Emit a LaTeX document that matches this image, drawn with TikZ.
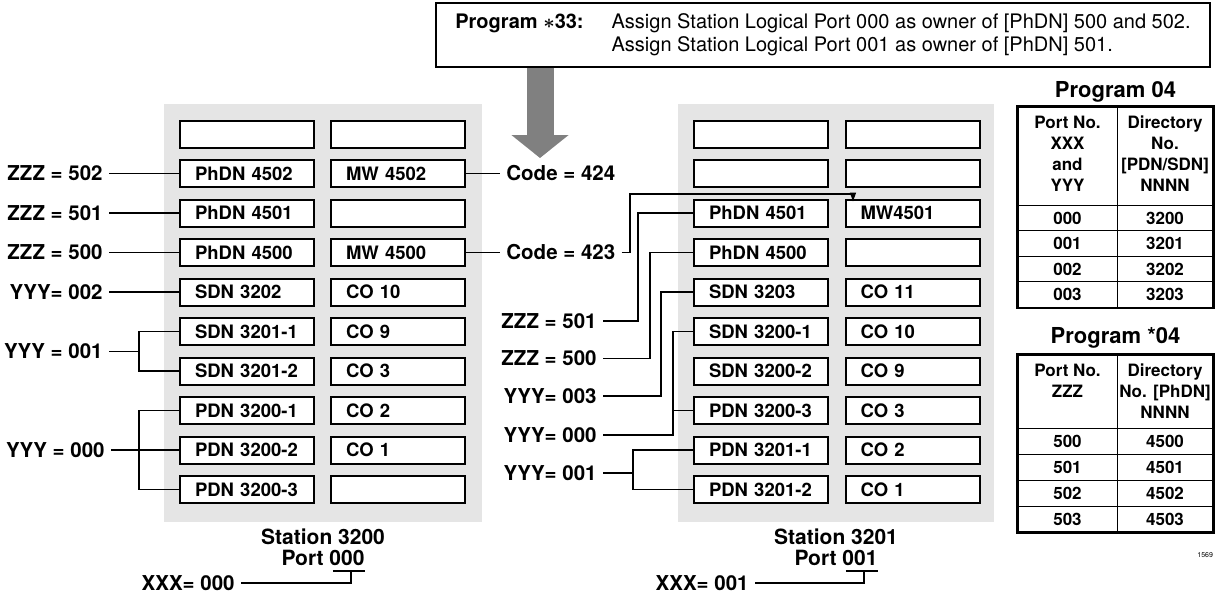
\documentclass[tikz,border=0pt]{standalone}
\usepackage{fontspec}
\setmainfont{TeX Gyre Heros}
\usetikzlibrary{arrows.meta}

\begin{document}
\begin{tikzpicture}[x=0.5pt,y=-0.5pt]
  \tikzset{SlotStyle/.style = {draw=black,line width=1pt,fill=white,rectangle,inner ysep=0pt,inner xsep=7.5pt,text width=52pt,align=left,minimum height=13.5pt,font=\fontsize{9.25}{11}\selectfont\bfseries}}
  \tikzset{TagStyle/.style = {inner sep=3pt,font=\fontsize{10.25}{12}\selectfont\bfseries}}
  \tikzset{StationStyle/.style = {inner sep=0pt,font=\fontsize{10.5}{12}\selectfont\bfseries}}
  \tikzset{LinkStyle/.style = {line width=0.7pt}}
  \tikzset{CellStyle/.style = {draw=black,line width=0.5pt,rectangle,inner sep=0pt,minimum height=12.75pt,font=\fontsize{8.5}{10.5}\selectfont\bfseries}}
  \tikzset{HeadStyle/.style = {inner sep=0pt,align=center,anchor=north,font=\fontsize{8.5}{10.5}\selectfont\bfseries}}
  \tikzset{TitleStyle/.style = {inner sep=0pt,font=\fontsize{11}{13}\selectfont\bfseries}}
  \useasboundingbox (0,0) rectangle (1215,595);
  % program *33 box and arrow
  \node[draw=black,line width=0.9pt,minimum width=387pt,minimum height=32pt,inner sep=0pt] (prog33) at (823,35)
    {\fontsize{10}{11.5}\selectfont\begin{tabular}{@{}l@{\hspace{14pt}}l@{}}
      {\bfseries Program {\boldmath$\ast$}33:} & Assign Station Logical Port 000 as owner of [PhDN] 500 and 502.\\
      & Assign Station Logical Port 001 as owner of [PhDN] 501.
    \end{tabular}};
  \coordinate (atip) at (540,158);
  \draw[line width=13.5pt,black!50,-{Triangle[width=28pt,length=11.5pt]}] (atip |- prog33.south) -- (atip);
  % gray panels
  \fill[black!10] (164,104) rectangle (482,522);
  \fill[black!10] (678,104) rectangle (994,522);
  % station 3200, port 000
  \node[SlotStyle] (pa1_0) at (247,134) {};
  \node[SlotStyle] (pa1_1) at (247,173.5) {PhDN 4502};
  \node[SlotStyle] (pa1_2) at (247,213) {PhDN 4501};
  \node[SlotStyle] (pa1_3) at (247,252.5) {PhDN 4500};
  \node[SlotStyle] (pa1_4) at (247,292) {SDN 3202};
  \node[SlotStyle] (pa1_5) at (247,331.5) {SDN 3201-1};
  \node[SlotStyle] (pa1_6) at (247,371) {SDN 3201-2};
  \node[SlotStyle] (pa1_7) at (247,410.5) {PDN 3200-1};
  \node[SlotStyle] (pa1_8) at (247,450) {PDN 3200-2};
  \node[SlotStyle] (pa1_9) at (247,489.5) {PDN 3200-3};
  \node[SlotStyle] (pa2_0) at (398,134) {};
  \node[SlotStyle] (pa2_1) at (398,173.5) {MW 4502};
  \node[SlotStyle] (pa2_2) at (398,213) {};
  \node[SlotStyle] (pa2_3) at (398,252.5) {MW 4500};
  \node[SlotStyle] (pa2_4) at (398,292) {CO 10};
  \node[SlotStyle] (pa2_5) at (398,331.5) {CO 9};
  \node[SlotStyle] (pa2_6) at (398,371) {CO 3};
  \node[SlotStyle] (pa2_7) at (398,410.5) {CO 2};
  \node[SlotStyle] (pa2_8) at (398,450) {CO 1};
  \node[SlotStyle] (pa2_9) at (398,489.5) {};
  % station 3201, port 001
  \node[SlotStyle] (pb1_0) at (761,134) {};
  \node[SlotStyle] (pb1_1) at (761,173.5) {};
  \node[SlotStyle] (pb1_2) at (761,213) {PhDN 4501};
  \node[SlotStyle] (pb1_3) at (761,252.5) {PhDN 4500};
  \node[SlotStyle] (pb1_4) at (761,292) {SDN 3203};
  \node[SlotStyle] (pb1_5) at (761,331.5) {SDN 3200-1};
  \node[SlotStyle] (pb1_6) at (761,371) {SDN 3200-2};
  \node[SlotStyle] (pb1_7) at (761,410.5) {PDN 3200-3};
  \node[SlotStyle] (pb1_8) at (761,450) {PDN 3201-1};
  \node[SlotStyle] (pb1_9) at (761,489.5) {PDN 3201-2};
  \node[SlotStyle] (pb2_0) at (912.5,134) {};
  \node[SlotStyle] (pb2_1) at (912.5,173.5) {};
  \node[SlotStyle] (pb2_2) at (912.5,213) {MW4501};
  \node[SlotStyle] (pb2_3) at (912.5,252.5) {};
  \node[SlotStyle] (pb2_4) at (912.5,292) {CO 11};
  \node[SlotStyle] (pb2_5) at (912.5,331.5) {CO 10};
  \node[SlotStyle] (pb2_6) at (912.5,371) {CO 9};
  \node[SlotStyle] (pb2_7) at (912.5,410.5) {CO 3};
  \node[SlotStyle] (pb2_8) at (912.5,450) {CO 2};
  \node[SlotStyle] (pb2_9) at (912.5,489.5) {CO 1};
  % left labels
  \node[TagStyle,anchor=east] (lz502) at (109,173.5) {ZZZ = 502};
  \node[TagStyle,anchor=east] (lz501) at (109,213) {ZZZ = 501};
  \node[TagStyle,anchor=east] (lz500) at (109,252.5) {ZZZ = 500};
  \node[TagStyle,anchor=east] (ly002) at (109,292) {YYY= 002};
  \node[TagStyle,anchor=east] (ly001) at (109,351.25) {YYY = 001};
  \node[TagStyle,anchor=east] (ly000) at (111,450) {YYY = 000};
  \coordinate (lj1) at (139,351.25);
  \coordinate (lj0) at (139,450);
  \draw[LinkStyle] (lz502) -- (pa1_1);
  \draw[LinkStyle] (lz501) -- (pa1_2);
  \draw[LinkStyle] (lz500) -- (pa1_3);
  \draw[LinkStyle] (ly002) -- (pa1_4);
  \draw[LinkStyle] (ly001) -- (lj1);
  \draw[LinkStyle] (pa1_5) -| (lj1) |- (pa1_6);
  \draw[LinkStyle] (ly000) -- (pa1_8);
  \draw[LinkStyle] (pa1_7) -| (lj0) |- (pa1_9);
  % message waiting codes
  \node[TagStyle,anchor=west] (cd424) at (500,173.5) {Code = 424};
  \node[TagStyle,anchor=west] (cd423) at (500,252.5) {Code = 423};
  \draw[LinkStyle] (pa2_1) -- (cd424);
  \draw[LinkStyle] (pa2_3) -- (cd423);
  \coordinate (kc) at (630,194);
  \coordinate (kt) at (853,194);
  \draw[LinkStyle,-{Triangle[width=3pt,length=4.5pt]},shorten >=-1.5pt] (cd423.east) -| (kc) -- (kt) -- (kt |- pb2_2.north);
  % right labels
  \node[TagStyle,anchor=east] (rz501) at (603,321) {ZZZ = 501};
  \node[TagStyle,anchor=east] (rz500) at (603,358.5) {ZZZ = 500};
  \node[TagStyle,anchor=east] (ry003) at (603,396) {YYY= 003};
  \node[TagStyle,anchor=east] (ry000) at (603,435) {YYY= 000};
  \node[TagStyle,anchor=east] (ry001) at (603,473) {YYY= 001};
  \coordinate (rj5) at (638,321);
  \coordinate (rj4) at (650,358.5);
  \coordinate (rj3) at (661,396);
  \coordinate (rj0) at (673,435);
  \coordinate (rj1) at (633,473);
  \draw[LinkStyle] (rz501) -- (rj5) |- (pb1_2);
  \draw[LinkStyle] (rz500) -- (rj4) |- (pb1_3);
  \draw[LinkStyle] (ry003) -- (rj3) |- (pb1_4);
  \draw[LinkStyle] (ry000) -- (rj0) |- (pb1_5);
  \draw[LinkStyle] (rj0) |- (pb1_7);
  \draw[LinkStyle] (ry001) -- (rj1);
  \draw[LinkStyle] (pb1_8) -| (rj1) |- (pb1_9);
  % station names and ports
  \node[StationStyle] (sta0) at (323,537) {Station 3200};
  \node[StationStyle] (prt0) at (323,558) {Port 000};
  \node[StationStyle] (sta1) at (836,537) {Station 3201};
  \node[StationStyle] (prt1) at (836,558) {Port 001};
  \node[TagStyle,anchor=east] (xx0) at (241,583) {XXX= 000};
  \node[TagStyle,anchor=east] (xx1) at (755,583) {XXX= 001};
  \coordinate (ub0) at (prt0.east |- 0,571);
  \coordinate (ua0) at ([xshift=-16pt]ub0);
  \coordinate (uc0) at ([xshift=-7pt]ub0);
  \coordinate (ub1) at (prt1.east |- 0,571);
  \coordinate (ua1) at ([xshift=-16pt]ub1);
  \coordinate (uc1) at ([xshift=-7pt]ub1);
  \draw[LinkStyle] (ua0) -- (ub0);
  \draw[LinkStyle] (xx0) -| (uc0);
  \draw[LinkStyle] (ua1) -- (ub1);
  \draw[LinkStyle] (xx1) -| (uc1);
  % program 04 table
  \node[TitleStyle] (p04t) at (1115.5,92) {Program 04};
  \node[CellStyle,minimum width=49.5pt,minimum height=49pt] (p04h_a) at (1067.5,156) {};
  \node[CellStyle,minimum width=48pt,minimum height=49pt] (p04h_b) at (1165,156) {};
  \node[HeadStyle] (p04x_a) at ([yshift=-4.5pt]p04h_a.north) {Port No.\\XXX\\and\\YYY};
  \node[HeadStyle] (p04x_b) at ([yshift=-4.5pt]p04h_b.north) {Directory\\No.\\{}[PDN/SDN]\\NNNN};
  \node[CellStyle,minimum width=49.5pt] (p04r1_a) at (1067.5,218) {000};
  \node[CellStyle,minimum width=48pt] (p04r1_b) at (1165,218) {3200};
  \node[CellStyle,minimum width=49.5pt] (p04r2_a) at (1067.5,243.5) {001};
  \node[CellStyle,minimum width=48pt] (p04r2_b) at (1165,243.5) {3201};
  \node[CellStyle,minimum width=49.5pt] (p04r3_a) at (1067.5,269) {002};
  \node[CellStyle,minimum width=48pt] (p04r3_b) at (1165,269) {3202};
  \node[CellStyle,minimum width=49.5pt] (p04r4_a) at (1067.5,294.5) {003};
  \node[CellStyle,minimum width=48pt] (p04r4_b) at (1165,294.5) {3203};
  \draw[line width=1.2pt] (p04h_a.north west) rectangle (p04r4_b.south east);
  % program *04 table
  \node[TitleStyle] (q04t) at (1115.5,338) {Program *04};
  \node[CellStyle,minimum width=49.5pt,minimum height=36.5pt] (q04h_a) at (1067.5,391.5) {};
  \node[CellStyle,minimum width=48pt,minimum height=36.5pt] (q04h_b) at (1165,391.5) {};
  \node[HeadStyle] (q04x_a) at ([yshift=-4.5pt]q04h_a.north) {Port No.\\ZZZ};
  \node[HeadStyle] (q04x_b) at ([yshift=-4.5pt]q04h_b.north) {Directory\\No. [PhDN]\\NNNN};
  \node[CellStyle,minimum width=49.5pt,minimum height=13pt] (q04r1_a) at (1067.5,441) {500};
  \node[CellStyle,minimum width=48pt,minimum height=13pt] (q04r1_b) at (1165,441) {4500};
  \node[CellStyle,minimum width=49.5pt,minimum height=13pt] (q04r2_a) at (1067.5,467) {501};
  \node[CellStyle,minimum width=48pt,minimum height=13pt] (q04r2_b) at (1165,467) {4501};
  \node[CellStyle,minimum width=49.5pt,minimum height=13pt] (q04r3_a) at (1067.5,493) {502};
  \node[CellStyle,minimum width=48pt,minimum height=13pt] (q04r3_b) at (1165,493) {4502};
  \node[CellStyle,minimum width=49.5pt,minimum height=13pt] (q04r4_a) at (1067.5,519) {503};
  \node[CellStyle,minimum width=48pt,minimum height=13pt] (q04r4_b) at (1165,519) {4503};
  \draw[line width=1.2pt] (q04h_a.north west) rectangle (q04r4_b.south east);
  \node[anchor=west,inner sep=0pt,font=\fontsize{3.5}{4}\selectfont] (fignum) at (1197,555) {1569};
\end{tikzpicture}
\end{document}
